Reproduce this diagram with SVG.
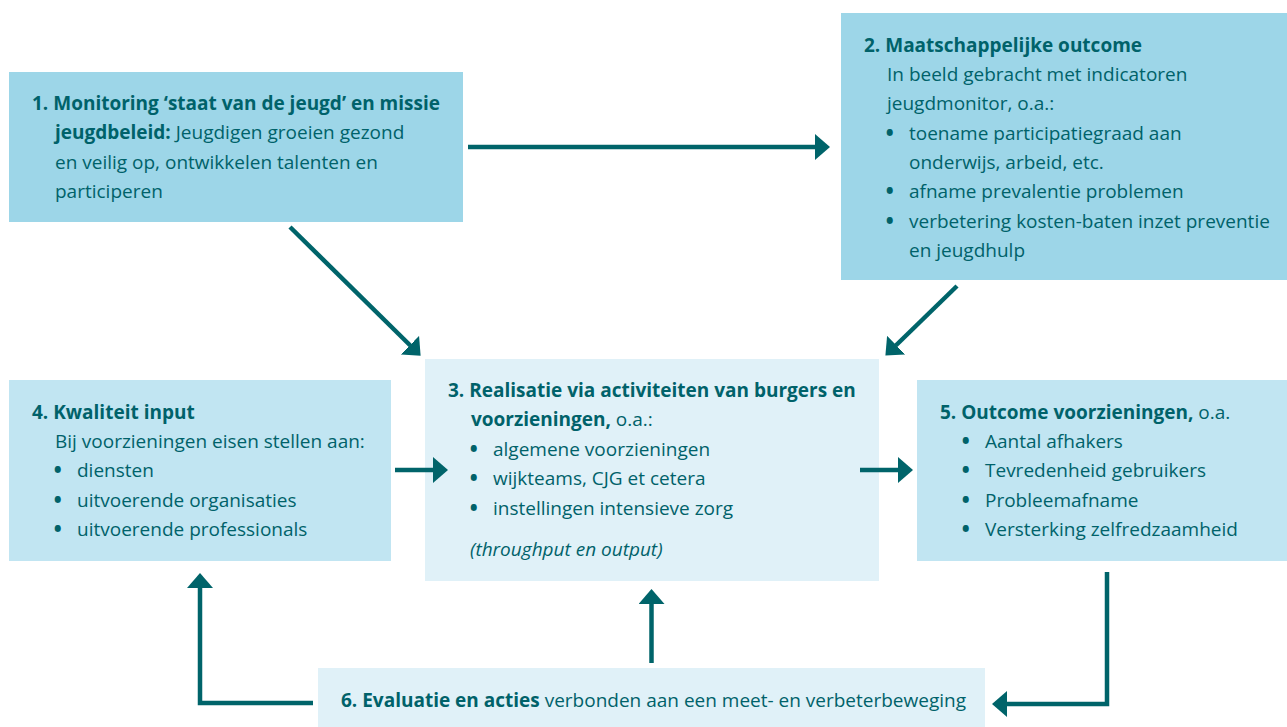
<svg xmlns="http://www.w3.org/2000/svg" width="1287" height="727" viewBox="0 0 1287 727">
<style>
text{font-family:"Open Sans","Noto Sans",sans-serif;font-size:19px;fill:#00626a}
.b{font-weight:bold}
.i{font-style:italic}
.u{font-weight:800}
.d1{fill:#9dd6e8}
.d2{fill:#c1e5f2}
.d3{fill:#e0f1f8}
.c{stroke:#00646a;stroke-width:4.5;fill:none}
</style>
<defs>
<marker id="ah" markerUnits="userSpaceOnUse" viewBox="0 0 15 26" refX="0.5" refY="13" markerWidth="15" markerHeight="26" orient="auto">
<path d="M0,0 L15,13 L0,26 Z" fill="#00646a"/>
</marker>
</defs>
<rect width="1287" height="727" fill="#fff"/>
<g id="node1">
<rect class="d1" x="9" y="72" width="454" height="150"/>
<text x="32" y="110"><tspan class="b">1. Monitoring ‘staat van de jeugd’ en missie</tspan></text>
<text x="55" y="139"><tspan class="b">jeugdbeleid:</tspan> Jeugdigen groeien gezond</text>
<text x="55" y="169">en veilig op, ontwikkelen talenten en</text>
<text x="55" y="198">participeren</text>
</g>
<g id="node2">
<rect class="d1" x="841" y="13" width="446" height="267"/>
<text x="864" y="52" class="b">2. Maatschappelijke outcome</text>
<text x="887" y="81">In beeld gebracht met indicatoren</text>
<text x="887" y="110">jeugdmonitor, o.a.:</text>
<text x="886" y="140"><tspan class="u">•</tspan><tspan x="909">toename participatiegraad aan</tspan></text>
<text x="909" y="169">onderwijs, arbeid, etc.</text>
<text x="886" y="198"><tspan class="u">•</tspan><tspan x="909">afname prevalentie problemen</tspan></text>
<text x="886" y="228"><tspan class="u">•</tspan><tspan x="909">verbetering kosten-baten inzet preventie</tspan></text>
<text x="909" y="257">en jeugdhulp</text>
</g>
<g id="node3">
<rect class="d3" x="425" y="359" width="454" height="222"/>
<text x="448" y="397" class="b">3. Realisatie via activiteiten van burgers en</text>
<text x="471" y="426"><tspan class="b">voorzieningen,</tspan> o.a.:</text>
<text x="470" y="456"><tspan class="u">•</tspan><tspan x="493">algemene voorzieningen</tspan></text>
<text x="470" y="485"><tspan class="u">•</tspan><tspan x="493">wijkteams, CJG et cetera</tspan></text>
<text x="470" y="515"><tspan class="u">•</tspan><tspan x="493">instellingen intensieve zorg</tspan></text>
<text x="470" y="556" class="i">(throughput en output)</text>
</g>
<g id="node4">
<rect class="d2" x="9" y="380" width="382" height="181"/>
<text x="32" y="419" class="b">4. Kwaliteit input</text>
<text x="55" y="448">Bij voorzieningen eisen stellen aan:</text>
<text x="54" y="477"><tspan class="u">•</tspan><tspan x="77">diensten</tspan></text>
<text x="54" y="507"><tspan class="u">•</tspan><tspan x="77">uitvoerende organisaties</tspan></text>
<text x="54" y="536"><tspan class="u">•</tspan><tspan x="77">uitvoerende professionals</tspan></text>
</g>
<g id="node5">
<rect class="d2" x="917" y="380" width="370" height="181"/>
<text x="940" y="419"><tspan class="b">5. Outcome voorzieningen,</tspan> o.a.</text>
<text x="962" y="448"><tspan class="u">•</tspan><tspan x="985">Aantal afhakers</tspan></text>
<text x="962" y="477"><tspan class="u">•</tspan><tspan x="985">Tevredenheid gebruikers</tspan></text>
<text x="962" y="507"><tspan class="u">•</tspan><tspan x="985">Probleemafname</tspan></text>
<text x="962" y="536"><tspan class="u">•</tspan><tspan x="985">Versterking zelfredzaamheid</tspan></text>
</g>
<g id="node6">
<rect class="d3" x="318" y="668" width="667" height="59"/>
<text x="341" y="707"><tspan class="b">6. Evaluatie en acties</tspan> verbonden aan een meet- en verbeterbeweging</text>
</g>
<g id="connectors">
<path class="c" d="M468,147 H815.5" marker-end="url(#ah)"/>
<path class="c" d="M290,227 L410.3,345.5" marker-end="url(#ah)"/>
<path class="c" d="M957,286 L895.8,345.5" marker-end="url(#ah)"/>
<path class="c" d="M395,470 H433.5" marker-end="url(#ah)"/>
<path class="c" d="M860,470 H898.5" marker-end="url(#ah)"/>
<path class="c" d="M313,703 H200 V587.5" marker-end="url(#ah)"/>
<path class="c" d="M651.5,663 V603.5" marker-end="url(#ah)"/>
<path class="c" d="M1107,572 V704 H1006.5" marker-end="url(#ah)"/>
</g>
</svg>
